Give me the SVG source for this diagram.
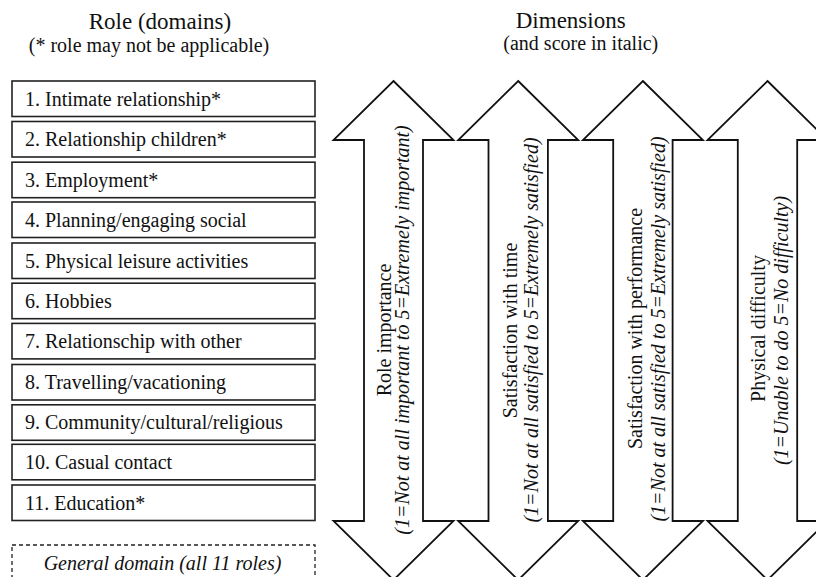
<svg xmlns="http://www.w3.org/2000/svg" width="816" height="577" viewBox="0 0 816 577" font-family="'Liberation Serif', 'DejaVu Serif', serif">
<style>
text{font-family:'Liberation Serif','DejaVu Serif',serif;fill:#111}
.t{font-size:23px}
.s{font-size:20px}
.i{font-size:20px;font-style:italic}
.box{fill:#fff;stroke:#222;stroke-width:1.6}
.dash{fill:#fff;stroke:#222;stroke-width:1.3;stroke-dasharray:4 3}
.arr{fill:#fff;stroke:#111;stroke-width:1.8;stroke-linejoin:miter}
</style>
<rect width="816" height="577" fill="#fff"/>
<g id="titles">
<text class="t" x="160" y="29.3" text-anchor="middle">Role (domains)</text>
<text class="s" x="149" y="51.5" text-anchor="middle">(* role may not be applicable)</text>
<text class="t" x="570.7" y="28.3" text-anchor="middle">Dimensions</text>
<text class="s" x="580.8" y="50.3" text-anchor="middle">(and score in italic)</text>
</g>
<g id="role1"><rect class="box" x="12" y="81" width="303" height="35.5"/><text class="s" x="25" y="105.5">1. Intimate relationship*</text></g>
<g id="role2"><rect class="box" x="12" y="121.5" width="303" height="35.5"/><text class="s" x="25" y="146">2. Relationship children*</text></g>
<g id="role3"><rect class="box" x="12" y="162.2" width="303" height="35.5"/><text class="s" x="25" y="186.7">3. Employment*</text></g>
<g id="role4"><rect class="box" x="12" y="202" width="303" height="35.5"/><text class="s" x="25" y="226.5">4. Planning/engaging social</text></g>
<g id="role5"><rect class="box" x="12" y="243" width="303" height="35.5"/><text class="s" x="25" y="267.5">5. Physical leisure activities</text></g>
<g id="role6"><rect class="box" x="12" y="283.2" width="303" height="35.5"/><text class="s" x="25" y="307.5">6. Hobbies</text></g>
<g id="role7"><rect class="box" x="12" y="323.4" width="303" height="35.5"/><text class="s" x="25" y="347.9">7. Relationschip with other</text></g>
<g id="role8"><rect class="box" x="12" y="364.5" width="303" height="35.5"/><text class="s" x="25" y="389">8. Travelling/vacationing</text></g>
<g id="role9"><rect class="box" x="12" y="404.8" width="303" height="35.5"/><text class="s" x="25" y="429.3">9. Community/cultural/religious</text></g>
<g id="role10"><rect class="box" x="12" y="444.3" width="303" height="35.5"/><text class="s" x="25" y="468.8">10. Casual contact</text></g>
<g id="role11"><rect class="box" x="12" y="485" width="303" height="35.5"/><text class="s" x="25" y="509.5">11. Education*</text></g>
<g id="general"><rect class="dash" x="12" y="545" width="303" height="50"/><text class="i" x="162.5" y="570" text-anchor="middle">General domain (all 11 roles)</text></g>
<g id="dim1">
<polygon class="arr" points="393.5,81 453.5,140 423,140 423,521 453.5,521 393.5,580 333.5,521 364,521 364,140 333.5,140"/>
<text class="s" transform="translate(390.5,330) rotate(-90)" text-anchor="middle">Role importance</text>
<text class="i" transform="translate(409,330) rotate(-90)" text-anchor="middle">(1=Not at all important to 5=Extremely important)</text>
</g>
<g id="dim2">
<polygon class="arr" points="518.2,81 578.2,140 547.9,140 547.9,521 578.2,521 518.2,580 458.2,521 488.5,521 488.5,140 458.2,140"/>
<text class="s" transform="translate(516.5,330.5) rotate(-90)" text-anchor="middle">Satisfaction with time</text>
<text class="i" transform="translate(537.5,330) rotate(-90)" text-anchor="middle">(1=Not at all satisfied to 5=Extremely satisfied)</text>
</g>
<g id="dim3">
<polygon class="arr" points="642.9,81 702.9,140 672.6,140 672.6,521 702.9,521 642.9,580 582.9,521 613.2,521 613.2,140 582.9,140"/>
<text class="s" transform="translate(641.7,328.5) rotate(-90)" text-anchor="middle">Satisfaction with performance</text>
<text class="i" transform="translate(665,329) rotate(-90)" text-anchor="middle">(1=Not at all satisfied to 5=Extremely satisfied)</text>
</g>
<g id="dim4">
<polygon class="arr" points="767.5,81 827.5,140 797.2,140 797.2,521 827.5,521 767.5,580 707.5,521 737.8,521 737.8,140 707.5,140"/>
<text class="s" transform="translate(765,328.5) rotate(-90)" text-anchor="middle">Physical difficulty</text>
<text class="i" transform="translate(788,330.5) rotate(-90)" text-anchor="middle">(1=Unable to do 5=No difficulty)</text>
</g>
<g id="connectors"/>
</svg>
